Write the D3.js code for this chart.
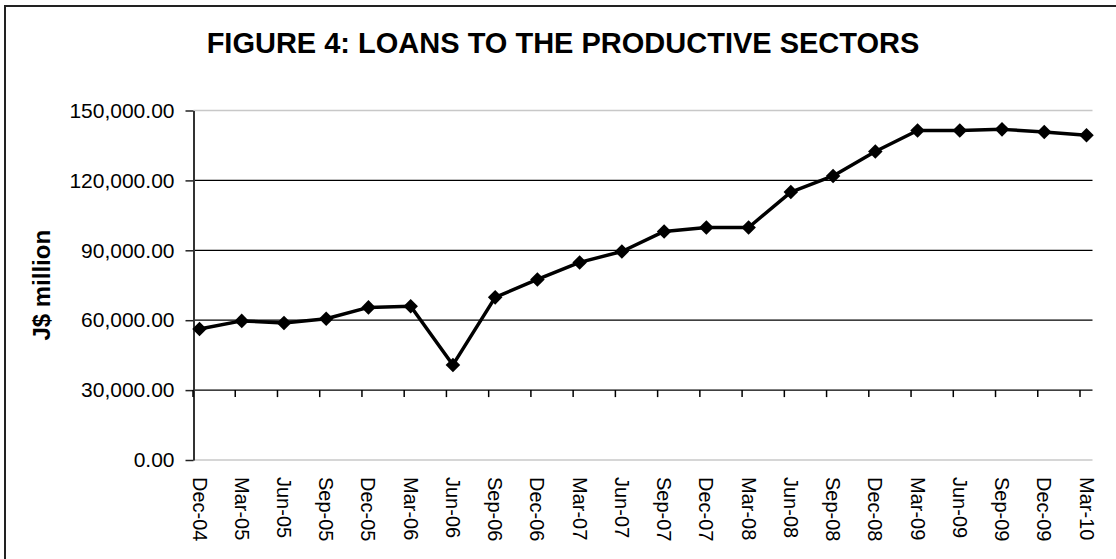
<!DOCTYPE html>
<html>
<head>
<meta charset="utf-8">
<script src="https://cdn.jsdelivr.net/npm/d3@7"></script>
<style>
  body { margin: 0; background: #fff; }
  svg { display: block; font-family: "Liberation Sans", Arial, sans-serif; }
</style>
</head>
<body>
<div id="wrap"></div>
<script>
// quarterly data, J$ million
const quarters = ["Dec-04", "Mar-05", "Jun-05", "Sep-05", "Dec-05", "Mar-06", "Jun-06", "Sep-06",
  "Dec-06", "Mar-07", "Jun-07", "Sep-07", "Dec-07", "Mar-08", "Jun-08", "Sep-08",
  "Dec-08", "Mar-09", "Jun-09", "Sep-09", "Dec-09", "Mar-10"];
const loans = [56200, 59700, 58800, 60600, 65500, 66000, 40800, 69800,
  77500, 84800, 89500, 98100, 99800, 99800, 115000, 121900,
  132400, 141400, 141400, 141900, 140800, 139400];
const yTicks = [0, 30000, 60000, 90000, 120000, 150000];
const titleText = "FIGURE 4: LOANS TO THE PRODUCTIVE SECTORS";
const yTitle = "J$ million";

const width = 1116;
const height = 559;

const plot = { left: 193.5, right: 1092.5, top: 110.5, bottom: 460 };
const tickShift = 6.5; // category ticks sit a bit left of the points

const x = d3.scalePoint()
    .domain(quarters)
    .range([plot.left + 6, plot.right - 6]);

const y = d3.scaleLinear()
    .domain([0, 150000])
    .range([plot.bottom, plot.top]);

const fmt = d3.format(",.2f");

const svg = d3.select("#wrap").append("svg")
    .attr("width", width)
    .attr("height", height);

// outer chart frame (runs off the page on right and bottom)
svg.append("rect")
    .attr("x", 5).attr("y", 6)
    .attr("width", 1130).attr("height", 580)
    .attr("fill", "none")
    .attr("stroke", "#222")
    .attr("stroke-width", 2);

svg.append("text")
    .attr("x", 563)
    .attr("y", 53)
    .attr("text-anchor", "middle")
    .attr("font-size", 29)
    .attr("font-weight", "bold")
    .text(titleText);

// plot area edges
svg.append("g")
    .selectAll("line")
    .data([0, 150000])
    .join("line")
    .attr("x1", plot.left).attr("x2", plot.right)
    .attr("y1", d => y(d)).attr("y2", d => y(d))
    .attr("stroke", "#c8c8c8")
    .attr("stroke-width", 1.5);

// gridlines
svg.append("g")
    .selectAll("line")
    .data(yTicks.filter(d => d > 0 && d < 150000))
    .join("line")
    .attr("x1", plot.left).attr("x2", plot.right)
    .attr("y1", d => y(d)).attr("y2", d => y(d))
    .attr("stroke", "#000")
    .attr("stroke-width", 1.2);

// y axis
const yAxis = d3.axisLeft(y)
    .tickValues(yTicks)
    .tickSizeInner(8)
    .tickSizeOuter(0)
    .tickPadding(11)
    .tickFormat(fmt);

const gy = svg.append("g")
    .attr("transform", `translate(${plot.left},0)`)
    .call(yAxis);
gy.select(".domain").attr("stroke", "#333").attr("stroke-width", 2);
gy.selectAll(".tick line").attr("stroke", "#222").attr("stroke-width", 1.5);
gy.selectAll(".tick text")
    .attr("font-size", 21)
    .attr("font-family", "Liberation Sans, Arial, sans-serif")
    .attr("fill", "#000");

// category axis crossing at 30,000
const axisY = y(30000);
svg.append("g")
    .selectAll("line")
    .data(quarters)
    .join("line")
    .attr("x1", d => x(d) - tickShift).attr("x2", d => x(d) - tickShift)
    .attr("y1", axisY).attr("y2", axisY + 7)
    .attr("stroke", "#000")
    .attr("stroke-width", 1.5);

svg.append("g")
    .selectAll("text")
    .data(quarters)
    .join("text")
    .attr("transform", d => `translate(${x(d)},${plot.bottom + 17}) rotate(90)`)
    .attr("dy", "0.35em")
    .attr("font-size", 20)
    .text(d => d);

svg.append("text")
    .attr("transform", `translate(42,${(plot.top + plot.bottom) / 2}) rotate(-90)`)
    .attr("text-anchor", "middle")
    .attr("dy", "0.35em")
    .attr("font-size", 24)
    .attr("font-weight", "bold")
    .text(yTitle);

// series
const line = d3.line()
    .x((d, i) => x(quarters[i]))
    .y(d => y(d));

svg.append("path")
    .datum(loans)
    .attr("d", line)
    .attr("fill", "none")
    .attr("stroke", "#000")
    .attr("stroke-width", 3.5)
    .attr("stroke-linejoin", "round");

const diamond = d3.symbol().type(d3.symbolDiamond2).size(135);
svg.append("g")
    .selectAll("path")
    .data(loans)
    .join("path")
    .attr("d", diamond)
    .attr("transform", (d, i) => `translate(${x(quarters[i])},${y(d)})`)
    .attr("fill", "#000");
</script>
</body>
</html>
